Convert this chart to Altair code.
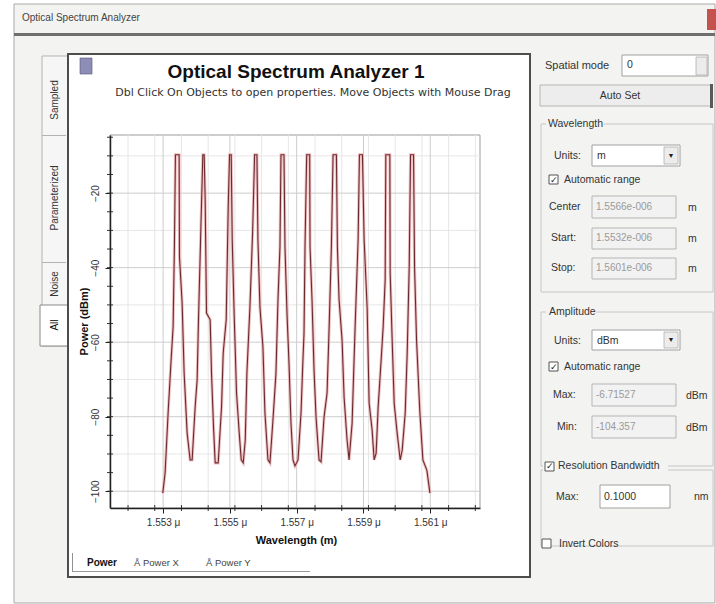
import altair as alt
import pandas as pd

# ---------------- data ----------------
WAVELENGTH_NM = [
    1552.99, 1553.06, 1553.15, 1553.24, 1553.30, 1553.34, 1553.37, 1553.48, 1553.49, 1553.57, 1553.63, 1553.72, 1553.81,
    1553.87, 1553.96, 1554.02, 1554.06, 1554.14, 1554.19, 1554.23, 1554.26, 1554.30, 1554.41, 1554.45, 1554.51, 1554.56,
    1554.65, 1554.75, 1554.80, 1554.89, 1554.95, 1554.99, 1555.04, 1555.07, 1555.13, 1555.20, 1555.28, 1555.34, 1555.40,
    1555.46, 1555.51, 1555.60, 1555.68, 1555.74, 1555.81, 1555.84, 1555.90, 1555.99, 1556.05, 1556.14, 1556.20,
    1556.29, 1556.38, 1556.44, 1556.50, 1556.53, 1556.62, 1556.65, 1556.71, 1556.77, 1556.83, 1556.89, 1556.95,
    1557.04, 1557.13, 1557.18, 1557.22, 1557.25, 1557.30, 1557.39, 1557.40, 1557.46, 1557.52, 1557.58, 1557.67, 1557.73,
    1557.82, 1557.91, 1557.97, 1558.04, 1558.09, 1558.19, 1558.22, 1558.27, 1558.36, 1558.42, 1558.51, 1558.57,
    1558.66, 1558.75, 1558.84, 1558.88, 1558.97, 1559.02, 1559.11, 1559.17, 1559.26, 1559.32,
    1559.38, 1559.44, 1559.53, 1559.59, 1559.65, 1559.67, 1559.79, 1559.80, 1559.86, 1559.92, 1560.01, 1560.10,
    1560.16, 1560.25, 1560.31, 1560.37, 1560.41, 1560.50, 1560.53, 1560.59, 1560.69, 1560.78, 1560.90, 1560.99,
]
POWER_DBM = [
    -100.5, -95.1, -79.0, -64.8, -55.9, -33.4, -9.7, -9.7, -37.1, -49.5, -68.3, -84.4, -91.6,
    -91.6, -77.4, -70.1, -54.0, -26.4, -9.7, -9.7, -21.8, -52.2, -54.0, -68.3, -82.8, -92.4,
    -92.4, -77.4, -62.9, -54.0, -23.7, -9.7, -9.7, -32.5, -53.2, -73.7, -84.4, -91.6, -92.4,
    -86.3, -68.3, -50.6, -30.7, -9.7, -9.7, -32.5, -50.6, -61.3, -79.0, -91.6, -92.4,
    -80.9, -68.3, -48.7, -34.4, -9.7, -9.7, -34.4, -52.2, -65.6, -81.8, -91.6, -93.2,
    -91.6, -79.0, -66.6, -57.6, -34.4, -9.7, -9.7, -34.4, -48.7, -67.5, -80.1, -91.6, -92.1,
    -80.1, -73.7, -56.7, -34.4, -9.7, -9.7, -34.4, -48.7, -59.5, -74.8, -86.3, -91.6,
    -81.8, -55.9, -32.5, -9.7, -9.7, -32.5, -50.6, -76.4, -83.6, -91.6,
    -89.8, -77.4, -64.8, -55.9, -43.3, -9.7, -9.7, -41.4, -59.5, -76.4, -84.4, -91.6,
    -89.0, -79.0, -62.9, -39.8, -9.7, -9.7, -39.8, -59.5, -79.0, -91.6, -94.4, -100.5,
]

X_TICK_VALUES = [1553, 1555, 1557, 1559, 1561]
Y_TICK_VALUES = [-100, -80, -60, -40, -20]
X_MINOR_GRID = [1551.95, 1552.75, 1553.55, 1554.35, 1555.15, 1555.95, 1556.75,
                1557.55, 1558.35, 1559.15, 1559.95, 1560.75, 1561.55, 1562.35]
Y_MINOR_GRID = [-90, -70, -50, -30, -10]
Y_MINOR_TICKS = [-100, -95, -90, -85, -80, -75, -70, -65, -60, -55, -50, -45,
                 -40, -35, -30, -25, -20, -15, -10, -5]
X_DOMAIN = [1551.41, 1562.49]
Y_DOMAIN = [-104.5, -4.4]

# ---------------- layout ----------------
OX, OY = 110, 135          # plot-area origin on the page
PW, PH = 370, 373          # plot-area size
FONT = "Liberation Sans"
PANEL = "#f3f3f1"

xs = alt.Scale(domain=X_DOMAIN, nice=False, zero=False)
ys = alt.Scale(domain=Y_DOMAIN, nice=False, zero=False)

X_AX = alt.Axis(
    values=X_TICK_VALUES, grid=False, labelExpr="format(datum.value / 1000, '.3f') + ' μ'",
    labelFont=FONT, labelFontSize=10, labelColor="#333333", labelPadding=4,
    tickSize=5, tickColor="#222222", domainColor="#222222", domainWidth=1.5,
    title="Wavelength (m)", titleFont=FONT, titleFontSize=11, titleFontWeight="bold",
    titleColor="#111111", titleX=186, titleY=32, titleBaseline="middle", zindex=1,
    labelOverlap=False, labelFlush=False)
Y_AX = alt.Axis(
    values=Y_TICK_VALUES, grid=False, labelAngle=270, labelAlign="center", labelBaseline="bottom",
    labelFont=FONT, labelFontSize=10, labelColor="#333333", labelPadding=5,
    tickSize=5, tickColor="#222222", domainColor="#222222", domainWidth=1.5,
    title="Power (dBm)", titleFont=FONT, titleFontSize=11, titleFontWeight="bold",
    titleColor="#111111", titleAngle=270, titleX=-26, titleY=186, titleAlign="center",
    titleBaseline="middle", zindex=1, labelOverlap=False, labelFlush=False)


def qx(field):
    return alt.X(f"{field}:Q", scale=xs, axis=X_AX)


def qy(field):
    return alt.Y(f"{field}:Q", scale=ys, axis=Y_AX)


# window decoration (page coordinates) -------------------------------------
R = [  # x0, y0, x1, y1, fill, stroke, stroke width
    (14, 4, 715, 603, PANEL, "#a9a9a9", 1),
    (14, 33, 715, 36, "#6f6f6f", "transparent", 0),
    (707, 9, 716, 30, "#c4524e", "transparent", 0),
    (42, 56, 68, 346, "#f6f6f6", "#b3b3b3", 1),
    (40, 305, 68, 346, "#ffffff", "#8a8a8a", 1),
    (42, 135, 66, 136, "#b3b3b3", "transparent", 0),
    (42, 262, 66, 263, "#b3b3b3", "transparent", 0),
    (68, 54, 530, 577, "#ffffff", "#4d4d4d", 2),
    (80, 58, 92, 74, "#8d8db6", "#555577", 0.6),
    (OX, OY, OX + PW, OY + PH, "#ffffff", "#9c9c9c", 1),
    (72, 553, 72.8, 572, "#777777", "transparent", 0),
    (72, 571, 310, 572, "#9a9a9a", "transparent", 0),
    # right panel
    (622, 55, 708, 76, "#ffffff", "#a0a0a0", 1),
    (696, 57, 707, 75, "#ececec", "#b0b0b0", 0.8),
    (540, 85, 711, 106, "#ededed", "#b5b5b5", 1),
    (710, 84, 713, 108, "#5a5a5a", "transparent", 0),
    (541, 124, 713, 292, "transparent", "#c6c6c6", 1),
    (592, 145, 680, 166, "#ffffff", "#a0a0a0", 1),
    (664, 147, 678, 164, "#ececec", "#b0b0b0", 0.8),
    (549, 175, 558, 184, "#ffffff", "#555555", 1),
    (592, 196, 676, 218, "#f2f2f2", "#b5b5b5", 1),
    (592, 228, 676, 249, "#f2f2f2", "#b5b5b5", 1),
    (592, 258, 676, 279, "#f2f2f2", "#b5b5b5", 1),
    (541, 312, 713, 466, "transparent", "#c6c6c6", 1),
    (592, 330, 680, 350, "#ffffff", "#a0a0a0", 1),
    (664, 332, 678, 348, "#ececec", "#b0b0b0", 0.8),
    (549, 362, 558, 371, "#ffffff", "#555555", 1),
    (592, 384, 676, 406, "#f2f2f2", "#b5b5b5", 1),
    (592, 416, 676, 438, "#f2f2f2", "#b5b5b5", 1),
    (541, 470, 713, 546, "transparent", "#c6c6c6", 1),
    (600, 485, 670, 508, "#ffffff", "#a0a0a0", 1),
    (542, 539, 551, 548, "#ffffff", "#555555", 1),
    # label gaps in the group frames
    (546, 118, 604, 130, PANEL, "transparent", 0),
    (546, 306, 596, 318, PANEL, "transparent", 0),
    (543, 460, 668, 475, PANEL, "transparent", 0),
    (545, 462, 554, 471, "#ffffff", "#555555", 1),
]
rect_df = pd.DataFrame(R, columns=["x0", "y0", "x1", "y1", "fill", "stroke", "sw"])
rect_df[["x0", "x1"]] -= OX
rect_df[["y0", "y1"]] -= OY

T = [  # text, x, y, size, colour, angle
    ("Optical Spectrum Analyzer", 22, 18, 10, "#444444", 0),
    ("Spatial mode", 545, 66, 11, "#333333", 0),
    ("0", 627, 65, 10.5, "#333333", 0),
    ("Wavelength", 548, 124, 10.5, "#333333", 0),
    ("Units:", 554, 156, 10.5, "#333333", 0),
    ("m", 597, 156, 10.5, "#333333", 0),
    ("Automatic range", 564, 180, 10.5, "#333333", 0),
    ("Center", 549, 207, 10.5, "#333333", 0),
    ("Start:", 551, 238, 10.5, "#333333", 0),
    ("Stop:", 551, 268, 10.5, "#333333", 0),
    ("m", 688, 208, 10.5, "#333333", 0),
    ("m", 688, 239, 10.5, "#333333", 0),
    ("m", 688, 269, 10.5, "#333333", 0),
    ("1.5566e-006", 596, 207, 10, "#9a9a9a", 0),
    ("1.5532e-006", 596, 238, 10, "#9a9a9a", 0),
    ("1.5601e-006", 596, 268, 10, "#9a9a9a", 0),
    ("Amplitude", 549, 312, 10.5, "#333333", 0),
    ("Units:", 554, 341, 10.5, "#333333", 0),
    ("dBm", 597, 341, 10.5, "#333333", 0),
    ("Automatic range", 564, 367, 10.5, "#333333", 0),
    ("Max:", 553, 395, 10.5, "#333333", 0),
    ("Min:", 557, 427, 10.5, "#333333", 0),
    ("-6.71527", 596, 395, 10, "#9a9a9a", 0),
    ("-104.357", 596, 427, 10, "#9a9a9a", 0),
    ("dBm", 686, 396, 10.5, "#333333", 0),
    ("dBm", 686, 428, 10.5, "#333333", 0),
    ("Resolution Bandwidth", 558, 466, 10.5, "#333333", 0),
    ("Max:", 556, 497, 10.5, "#333333", 0),
    ("0.1000", 604, 497, 10.5, "#333333", 0),
    ("nm", 694, 497, 10.5, "#333333", 0),
    ("Invert Colors", 559, 544, 10.5, "#333333", 0),
    ("\u00c5 Power X", 134, 563, 9.5, "#444444", 0),
    ("\u00c5 Power Y", 206, 563, 9.5, "#444444", 0),
]
text_df = pd.DataFrame(T, columns=["t", "x", "y", "s", "c", "a"])
text_df["x"] -= OX
text_df["y"] -= OY

TC = [
    ("Auto Set", 620, 96, 10.5, "#333333", 0),
    ("▼", 671, 156, 7, "#222222", 0),
    ("▼", 671, 340, 7, "#222222", 0),
    ("✓", 553.5, 180, 9, "#222222", 0),
    ("✓", 553.5, 367, 9, "#222222", 0),
    ("✓", 549.5, 466, 9, "#222222", 0),
    ("Sampled", 55, 100, 10, "#333333", 270),
    ("Parameterized", 55, 198, 10, "#333333", 270),
    ("Noise", 55, 284, 10, "#333333", 270),
    ("All", 55, 325, 10, "#111111", 270),
]
textc_df = pd.DataFrame(TC, columns=["t", "x", "y", "s", "c", "a"])
textc_df["x"] -= OX
textc_df["y"] -= OY

TS = [
    ("Dbl Click On Objects to open properties.  Move Objects with Mouse Drag", 313, 93, 11, "#333333", 0),
]
texts_df = pd.DataFrame(TS, columns=["t", "x", "y", "s", "c", "a"])
texts_df["x"] -= OX
texts_df["y"] -= OY

TB = [
    ("Optical Spectrum Analyzer 1", 296, 72, 19, "#111111", 0),
    ("Power", 102, 563, 10, "#111111", 0),
]
textb_df = pd.DataFrame(TB, columns=["t", "x", "y", "s", "c", "a"])
textb_df["x"] -= OX
textb_df["y"] -= OY


def pix(name):
    return alt.X(f"{name}:Q", scale=None, axis=None)


def piy(name):
    return alt.Y(f"{name}:Q", scale=None, axis=None)


rects = alt.Chart(rect_df).mark_rect().encode(
    x=pix("x0"), x2="x1:Q", y=piy("y0"), y2="y1:Q",
    fill=alt.Fill("fill:N", scale=None, legend=None),
    stroke=alt.Stroke("stroke:N", scale=None, legend=None),
    strokeWidth=alt.StrokeWidth("sw:Q", scale=None, legend=None),
)


def texts(df, align, weight, font=FONT):
    return alt.Chart(df).mark_text(align=align, baseline="middle", font=font, fontWeight=weight).encode(
        x=pix("x"), y=piy("y"), text="t:N",
        size=alt.Size("s:Q", scale=None, legend=None),
        color=alt.Color("c:N", scale=None, legend=None),
        angle=alt.Angle("a:Q", scale=None, legend=None),
    )


# grid ------------------------------------------------------------------
gx_minor = alt.Chart(pd.DataFrame({"w": X_MINOR_GRID})).mark_rule(color="#e6e6e6", strokeWidth=1).encode(x=qx("w"))
gy_minor = alt.Chart(pd.DataFrame({"p": Y_MINOR_GRID})).mark_rule(color="#e6e6e6", strokeWidth=1).encode(y=qy("p"))
gx_major = alt.Chart(pd.DataFrame({"w": X_TICK_VALUES})).mark_rule(color="#cdcdcd", strokeWidth=1).encode(x=qx("w"))
gy_major = alt.Chart(pd.DataFrame({"p": Y_TICK_VALUES})).mark_rule(color="#cdcdcd", strokeWidth=1).encode(y=qy("p"))

xtick_minor = alt.Chart(pd.DataFrame({"w": X_MINOR_GRID})).mark_rule(color="#333333").encode(
    x=qx("w"), y=alt.value(PH - 3), y2=alt.value(PH + 3))
ytick_minor = alt.Chart(pd.DataFrame({"p": Y_MINOR_TICKS})).mark_rule(color="#333333").encode(
    y=qy("p"), x=alt.value(-3), x2=alt.value(3))

# spectrum ----------------------------------------------------------------
spec = pd.DataFrame({"wavelength": WAVELENGTH_NM, "power": POWER_DBM})
halo = alt.Chart(spec).mark_line(color="#eab0b3", strokeWidth=3.0, opacity=0.8).encode(
    x=qx("wavelength"), y=qy("power"))
trace = alt.Chart(spec).mark_line(color="#6d2a2e", strokeWidth=1.1).encode(
    x=qx("wavelength"), y=qy("power"))

chart = alt.layer(
    rects,
    gx_minor, gy_minor, gx_major, gy_major,
    halo, trace,
    xtick_minor, ytick_minor,
    texts(text_df, "left", "normal"),
    texts(textc_df, "center", "normal"),
    texts(texts_df, "center", "normal", "DejaVu Sans"),
    texts(textb_df, "center", "bold"),
).properties(
    width=PW, height=PH,
    padding={"left": OX, "top": OY, "right": 716 - OX - PW, "bottom": 604 - OY - PH},
    autosize=alt.AutoSizeParams(type="none"),
    background="#ffffff",
).configure_view(strokeWidth=0)

chart.save("out.html", embed_options={"renderer": "svg", "actions": False})
